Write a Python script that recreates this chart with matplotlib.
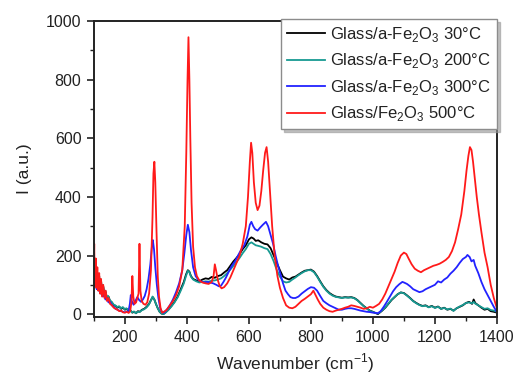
import matplotlib
matplotlib.use("Agg")
import matplotlib.pyplot as plt
from matplotlib.ticker import MultipleLocator

plt.rcParams['font.family'] = ['Liberation Sans', 'DejaVu Sans']
plt.rcParams['mathtext.fontset'] = 'custom'
plt.rcParams['mathtext.rm'] = 'Liberation Sans'

# Raman spectra: (wavenumber cm-1, intensity a.u.)
w_30 = [100, 102, 104, 106, 108, 111, 114, 117, 120, 123, 126, 130, 134, 138, 142, 147, 152, 158, 164, 170,
        176, 182, 188, 194, 200, 206, 212, 218, 224, 230, 236, 242, 248, 255, 262, 270, 278, 284, 290, 295,
        300, 306, 312, 318, 324, 330, 340, 350, 360, 370, 380, 390, 397, 403, 408, 413, 420, 430, 440, 450,
        460, 470, 480, 490, 500, 510, 520, 530, 540, 550, 560, 570, 580, 590, 600, 608, 615, 622, 630, 640,
        650, 660, 670, 680, 690, 700, 710, 720, 730, 740, 750, 760, 770, 780, 790, 800, 810, 820, 830, 840,
        850, 860, 870, 880, 890, 900, 910, 920, 930, 940, 950, 960, 970, 980, 990, 1000, 1010, 1016, 1022, 1030,
        1040, 1050, 1060, 1070, 1080, 1090, 1100, 1110, 1120, 1130, 1140, 1150, 1160, 1170, 1180, 1190, 1200, 1210, 1220, 1230,
        1240, 1250, 1260, 1270, 1280, 1290, 1300, 1310, 1320, 1325, 1330, 1340, 1350, 1360, 1370, 1380, 1390, 1400]
i_30 = [150, 175, 120, 160, 110, 140, 100, 130, 90, 115, 80, 95, 65, 75, 55, 60, 45, 40, 30, 28,
        22, 25, 18, 22, 15, 18, 10, 12, 5, 8, 3, 10, 8, 15, 18, 25, 35, 48, 58, 50,
        35, 20, 8, 2, 0, 5, 15, 28, 42, 60, 85, 110, 135, 150, 145, 130, 120, 115, 112, 118,
        122, 120, 127, 124, 130, 133, 142, 150, 165, 180, 192, 205, 222, 235, 255, 262, 258, 250, 252, 245,
        240, 238, 225, 200, 175, 150, 128, 122, 118, 125, 128, 135, 142, 148, 150, 152, 145, 130, 112, 95,
        82, 72, 65, 60, 58, 56, 58, 57, 58, 55, 48, 38, 28, 20, 12, 8, 3, 0, 5, 12,
        22, 35, 48, 58, 68, 74, 72, 64, 55, 45, 38, 32, 28, 30, 24, 28, 22, 26, 18, 22,
        15, 18, 12, 20, 25, 30, 38, 42, 35, 50, 38, 30, 22, 15, 18, 10, 8, 5]

w_200 = [100, 102, 104, 106, 109, 112, 115, 118, 121, 125, 129, 133, 137, 141, 146, 151, 157, 163, 169, 175,
         181, 187, 193, 199, 205, 211, 217, 223, 229, 235, 241, 247, 254, 261, 269, 277, 283, 289, 294, 300,
         306, 312, 318, 324, 330, 340, 350, 360, 370, 380, 390, 397, 403, 408, 413, 420, 430, 440, 450, 460,
         470, 480, 490, 500, 510, 520, 530, 540, 550, 560, 570, 580, 590, 600, 608, 615, 622, 630, 640, 650,
         660, 670, 680, 690, 700, 710, 720, 730, 740, 750, 760, 770, 780, 790, 800, 810, 820, 830, 840, 850,
         860, 870, 880, 890, 900, 910, 920, 930, 940, 950, 960, 970, 980, 990, 1000, 1010, 1016, 1022, 1030, 1040,
         1050, 1060, 1070, 1080, 1090, 1100, 1110, 1120, 1130, 1140, 1150, 1160, 1170, 1180, 1190, 1200, 1210, 1220, 1230, 1240,
         1250, 1260, 1270, 1280, 1290, 1300, 1310, 1320, 1325, 1330, 1340, 1350, 1360, 1370, 1380, 1390, 1400]
i_200 = [160, 140, 170, 125, 150, 110, 135, 100, 120, 85, 100, 70, 80, 58, 62, 48, 42, 33, 30, 24,
         27, 20, 24, 17, 20, 12, 14, 6, 9, 3, 8, 7, 13, 16, 22, 32, 45, 60, 52, 35,
         20, 8, 2, 0, 4, 14, 26, 40, 57, 80, 105, 130, 148, 143, 128, 118, 112, 108, 110, 112,
         111, 114, 115, 118, 122, 130, 140, 152, 165, 178, 192, 208, 222, 240, 245, 240, 235, 233, 230, 225,
         222, 205, 180, 150, 128, 112, 108, 110, 118, 125, 133, 140, 146, 150, 150, 143, 128, 110, 93, 80,
         70, 63, 59, 57, 55, 57, 56, 57, 54, 47, 37, 27, 19, 11, 7, 4, 2, 6, 13, 23,
         36, 49, 59, 68, 74, 71, 63, 54, 44, 37, 31, 27, 29, 23, 27, 21, 25, 18, 21, 16,
         19, 11, 20, 26, 31, 38, 40, 37, 42, 36, 30, 24, 18, 20, 14, 12, 8]

w_300 = [100, 102, 104, 106, 109, 112, 115, 118, 121, 125, 129, 133, 137, 142, 147, 152, 158, 164, 170, 176,
         182, 188, 194, 200, 206, 212, 216, 219, 222, 228, 234, 240, 246, 252, 258, 264, 270, 276, 282, 287,
         290, 294, 298, 303, 308, 314, 320, 326, 335, 345, 355, 365, 375, 385, 392, 398, 403, 408, 413, 420,
         428, 436, 445, 455, 465, 475, 485, 495, 503, 510, 518, 526, 535, 545, 555, 565, 575, 585, 595, 603,
         608, 614, 620, 628, 636, 645, 655, 662, 670, 678, 686, 694, 702, 710, 718, 726, 734, 742, 750, 760,
         770, 780, 790, 800, 810, 820, 830, 840, 850, 860, 870, 880, 890, 900, 910, 920, 930, 940, 950, 960,
         970, 980, 990, 1000, 1010, 1016, 1025, 1035, 1045, 1055, 1065, 1075, 1085, 1095, 1100, 1110, 1120, 1130, 1140, 1150,
         1160, 1170, 1180, 1190, 1200, 1210, 1220, 1230, 1240, 1250, 1260, 1270, 1280, 1290, 1300, 1305, 1312, 1318, 1325, 1330,
         1340, 1350, 1360, 1370, 1380, 1390, 1400]
i_300 = [110, 130, 95, 120, 85, 110, 80, 100, 70, 85, 60, 70, 50, 55, 40, 42, 30, 25, 18, 15,
         12, 10, 8, 6, 8, 12, 35, 65, 45, 32, 45, 58, 48, 42, 50, 62, 85, 120, 170, 230,
         253, 220, 160, 100, 55, 20, 6, 5, 15, 30, 50, 75, 105, 150, 210, 270, 305, 280, 220, 160,
         130, 118, 112, 108, 110, 108, 105, 100, 95, 97, 110, 125, 145, 165, 180, 200, 220, 235, 265, 305,
         315, 300, 290, 285, 295, 305, 315, 300, 270, 240, 200, 165, 135, 105, 80, 68, 58, 55, 55, 60,
         70, 78, 86, 92, 90, 80, 62, 45, 37, 30, 25, 20, 15, 15, 18, 20, 20, 18, 15, 12,
         10, 8, 7, 5, 4, 3, 10, 25, 42, 60, 78, 92, 102, 110, 108, 103, 95, 85, 80, 75,
         78, 85, 90, 95, 100, 112, 108, 118, 125, 138, 148, 160, 175, 188, 195, 202, 195, 180, 185, 165,
         140, 110, 85, 65, 45, 25, 7]

w_500 = [100, 101, 102, 104, 106, 108, 111, 114, 117, 120, 123, 126, 130, 134, 138, 142, 147, 152, 158, 164,
         170, 176, 182, 188, 194, 200, 206, 212, 217, 221, 224, 227, 231, 236, 240, 244, 247, 250, 254, 260,
         266, 272, 278, 284, 289, 292, 295, 298, 302, 306, 310, 315, 320, 326, 335, 345, 355, 365, 375, 385,
         393, 398, 402, 405, 408, 411, 415, 420, 426, 432, 440, 450, 460, 470, 480, 486, 490, 494, 500, 506,
         512, 520, 530, 540, 550, 560, 570, 580, 590, 597, 603, 607, 611, 616, 622, 628, 634, 640, 646, 652,
         657, 662, 668, 675, 683, 692, 700, 710, 720, 730, 740, 750, 760, 770, 780, 790, 800, 808, 815, 822,
         830, 840, 850, 860, 870, 880, 890, 900, 910, 920, 930, 940, 950, 960, 970, 980, 990, 1000, 1010, 1020,
         1030, 1040, 1050, 1060, 1070, 1080, 1090, 1100, 1108, 1115, 1125, 1135, 1145, 1155, 1165, 1175, 1185, 1195, 1205, 1215,
         1225, 1235, 1245, 1255, 1265, 1275, 1285, 1295, 1302, 1308, 1313, 1318, 1323, 1328, 1335, 1342, 1350, 1360, 1370, 1380,
         1390, 1400]
i_500 = [180, 240, 150, 100, 190, 90, 160, 80, 140, 70, 120, 60, 100, 55, 80, 45, 55, 35, 30, 22,
         18, 15, 10, 12, 6, 5, 8, 4, 10, 40, 130, 60, 35, 40, 55, 70, 240, 80, 45, 35,
         32, 40, 70, 150, 330, 480, 520, 450, 280, 130, 60, 20, 5, 8, 15, 30, 45, 65, 95, 150,
         300, 550, 800, 945, 800, 600, 380, 230, 160, 130, 115, 108, 105, 103, 110, 130, 170, 150, 115, 95,
         88, 92, 105, 125, 150, 175, 200, 240, 300, 400, 520, 585, 550, 450, 380, 355, 370, 420, 490, 550,
         570, 520, 420, 300, 200, 130, 90, 55, 30, 22, 20, 25, 35, 45, 52, 60, 68, 80, 65, 50,
         35, 22, 15, 10, 8, 12, 15, 18, 22, 25, 30, 28, 25, 22, 18, 20, 25, 22, 28, 35,
         50, 70, 95, 120, 145, 175, 200, 210, 205, 190, 170, 155, 148, 143, 150, 155, 160, 165, 168, 172,
         178, 185, 195, 215, 245, 290, 340, 420, 490, 540, 570, 560, 520, 470, 400, 340, 280, 210, 160, 100,
         55, 20]

labels = ['Glass/a-Fe$_2$O$_3$ 30°C', 'Glass/a-Fe$_2$O$_3$ 200°C',
          'Glass/a-Fe$_2$O$_3$ 300°C', 'Glass/Fe$_2$O$_3$ 500°C']
colors = ['#000000', '#179a92', '#2222ff', '#ff1a1a']

fig = plt.figure(figsize=(5.16, 3.77), dpi=100)
ax = fig.add_axes([0.182, 0.159, 0.781, 0.785])

series = [(w_30, i_30), (w_200, i_200), (w_300, i_300), (w_500, i_500)]
for (w, inten), lab, col in zip(series, labels, colors):
    ax.plot(w, inten, color=col, lw=1.3, label=lab)

ax.set_xlim(100, 1400)
ax.set_ylim(-10, 1000)
ax.xaxis.set_major_locator(MultipleLocator(200))
ax.xaxis.set_minor_locator(MultipleLocator(100))
ax.yaxis.set_major_locator(MultipleLocator(200))
ax.yaxis.set_minor_locator(MultipleLocator(100))
ax.tick_params(which='both', direction='out', top=False, right=False,
               labelsize=11.5, colors='#222222', labelcolor='#222222')
ax.tick_params(which='major', length=5, width=1.2, pad=4)
ax.tick_params(which='minor', length=3, width=1.0)
for s in ax.spines.values():
    s.set_color('#222222')
    s.set_linewidth(1.4)

ax.set_xlabel('Wavenumber (cm$^{-1}$)', fontsize=12.5, color='#222222', labelpad=5)
ax.set_ylabel('I (a.u.)', fontsize=12.5, color='#222222', labelpad=10)

leg = ax.legend(loc='upper right', bbox_to_anchor=(1.0, 1.007), borderaxespad=0,
                fontsize=12, frameon=True, fancybox=False, framealpha=1,
                edgecolor='0.55', handlelength=2.3, handletextpad=0.3,
                labelspacing=0.45, borderpad=0.35,
                shadow={'color': '0.6', 'alpha': 0.6, 'ox': 2, 'oy': -2})
leg.get_frame().set_linewidth(1.0)
for t in leg.get_texts():
    t.set_color('#222222')

fig.savefig('out.png', dpi=100)
